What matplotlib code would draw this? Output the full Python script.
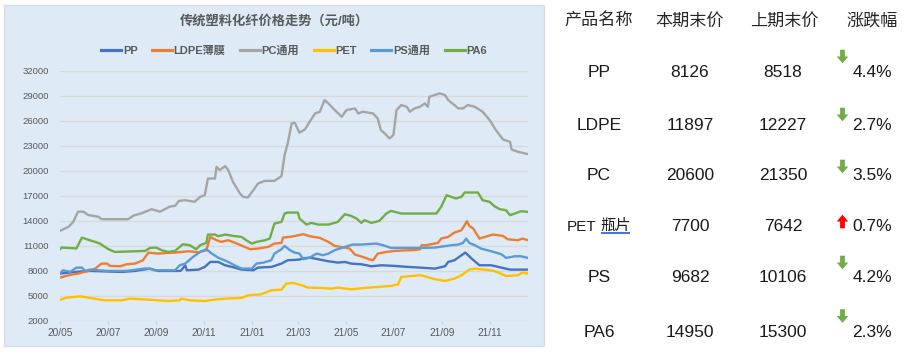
import numpy as np
import matplotlib
matplotlib.use('Agg')
import matplotlib.pyplot as plt
import matplotlib.dates as mdates
from matplotlib.patches import Rectangle, Polygon
from matplotlib.lines import Line2D

plt.rcParams['font.family'] = ['Liberation Sans', 'Noto Sans CJK SC', 'DejaVu Sans']

# ---------------- data ----------------
start_date = '2020-05-01'
series_names = ['PP', 'LDPE薄膜', 'PC通用', 'PET', 'PS通用', 'PA6']

pp_days = [0, 19, 38, 79, 96, 115, 125, 153, 155, 160, 162, 177, 185, 192, 202, 211, 223, 232, 247, 253,
           270, 283, 291, 306, 309, 319, 330, 343, 355, 364, 372, 385, 398, 411, 428, 445, 460, 479, 492, 496,
           504, 513, 518, 526, 536, 551, 564, 575, 598]
pp_vals = [7680, 7880, 8000, 7880, 8000, 8280, 8000, 8000, 8080, 8680, 8080, 8160, 8480, 9080, 9080, 8680, 8400, 8160, 8080, 8400,
           8480, 8880, 9280, 9360, 9480, 9600, 9400, 9160, 9000, 9080, 8880, 8800, 8560, 8680, 8600, 8480, 8400, 8280, 8560, 9080,
           9280, 9880, 10200, 9480, 8680, 8680, 8400, 8160, 8160]

ldpe_days = [0, 11, 23, 36, 45, 53, 60, 64, 77, 85, 96, 106, 113, 125, 138, 147, 164, 177, 187, 192,
             200, 206, 215, 226, 236, 243, 253, 266, 274, 283, 285, 294, 311, 319, 332, 343, 351, 364, 370, 377,
             387, 396, 400, 406, 417, 428, 445, 453, 460, 462, 468, 483, 487, 496, 504, 513, 520, 523, 528, 532,
             536, 543, 553, 566, 572, 585, 591, 598]
ldpe_vals = [7200, 7480, 7680, 8000, 8280, 8880, 8880, 8600, 8560, 8800, 8880, 9280, 10200, 10080, 10160, 10200, 10360, 10240, 10480, 12080,
             11680, 11480, 11680, 11280, 10880, 10600, 10680, 10880, 11280, 11360, 12000, 12080, 12400, 12160, 11960, 11480, 11000, 10800, 10680, 9960,
             9680, 9360, 9280, 10080, 10280, 10400, 10480, 10500, 10600, 11080, 11080, 11360, 11880, 12080, 12600, 12880, 13960, 13400, 13080, 12480,
             11880, 12080, 12360, 12200, 11800, 11680, 11880, 11680]

pc_days = [0, 11, 17, 23, 30, 36, 49, 53, 68, 87, 94, 104, 117, 128, 140, 147, 152, 160, 172, 179,
           185, 189, 198, 200, 204, 211, 215, 221, 230, 234, 240, 247, 253, 262, 274, 283, 287, 291, 296, 300,
           306, 313, 319, 326, 332, 338, 343, 349, 360, 366, 377, 381, 387, 400, 406, 410, 415, 421, 426, 430,
           436, 443, 447, 453, 460, 466, 470, 472, 485, 492, 496, 504, 509, 515, 521, 530, 540, 549, 557, 566,
           575, 577, 585, 598]
pc_vals = [12800, 13300, 13900, 15100, 15100, 14700, 14500, 14200, 14200, 14200, 14640, 14900, 15400, 15100, 15700, 15800, 16400, 16480, 16280, 16880,
           17080, 19080, 19080, 20480, 20080, 20560, 20080, 18680, 17280, 16880, 16800, 17680, 18480, 18800, 18800, 19360, 21880, 23280, 25680, 25760,
           24560, 24960, 25880, 26880, 27080, 28480, 28080, 27480, 26480, 27280, 27480, 26880, 27080, 26880, 26280, 24880, 24480, 23880, 24280, 27280,
           27880, 27680, 27080, 27480, 27680, 28080, 27680, 28880, 29280, 29080, 28480, 27880, 27480, 27480, 27880, 27680, 27080, 26080, 24880, 23760,
           23480, 22560, 22280, 22000]

pet_days = [0, 9, 26, 36, 57, 79, 89, 113, 138, 153, 155, 166, 185, 198, 211, 232, 240, 257, 270, 283,
            289, 298, 309, 317, 334, 347, 355, 372, 389, 406, 423, 432, 436, 445, 460, 466, 479, 492, 504, 513,
            523, 530, 543, 555, 570, 585, 591, 598]
pet_vals = [4560, 4800, 4960, 4800, 4480, 4480, 4680, 4560, 4400, 4480, 4680, 4480, 4400, 4560, 4680, 4760, 5080, 5200, 5680, 5760,
            6480, 6560, 6280, 6000, 5960, 5880, 6000, 5800, 5960, 6080, 6200, 6400, 7280, 7360, 7480, 7360, 7000, 6800, 7080, 7480,
            8160, 8280, 8160, 8000, 7400, 7480, 7800, 7680]

ps_days = [0, 4, 13, 21, 28, 32, 38, 60, 85, 109, 117, 121, 147, 153, 160, 170, 179, 187, 194, 202,
           215, 223, 232, 245, 251, 260, 270, 274, 283, 287, 294, 300, 306, 311, 319, 328, 336, 343, 351, 364,
           374, 385, 404, 413, 423, 440, 460, 479, 500, 509, 515, 519, 523, 530, 538, 551, 564, 570, 581, 589, 598]
ps_vals = [7680, 8080, 7880, 8400, 8400, 8000, 8160, 8000, 8000, 8300, 8200, 8080, 8080, 8680, 8880, 9680, 10280, 10600, 10080, 9600,
           9080, 8680, 8280, 8280, 8880, 9000, 9280, 10080, 10600, 11000, 10480, 10200, 10080, 9400, 9600, 10080, 9880, 10080, 10480, 10880,
           11160, 11160, 11280, 11080, 10760, 10760, 10760, 10800, 11080, 11160, 11360, 11880, 11360, 11080, 10680, 10360, 10000, 9560, 9760, 9760, 9560]

pa6_days = [0, 2, 21, 28, 34, 45, 51, 62, 70, 109, 115, 123, 130, 138, 147, 157, 166, 174, 179, 187,
            189, 198, 202, 211, 221, 232, 238, 245, 251, 262, 268, 274, 283, 287, 291, 304, 306, 315, 321, 330,
            343, 355, 364, 372, 379, 385, 389, 398, 408, 417, 423, 436, 453, 481, 487, 494, 500, 506, 513, 517,
            534, 540, 549, 555, 562, 570, 575, 581, 589, 598]
pa6_vals = [10600, 10800, 10700, 12000, 11800, 11480, 11280, 10600, 10280, 10400, 10760, 10800, 10480, 10280, 10400, 11200, 11080, 10600, 11080, 11360,
            12360, 12360, 12160, 12360, 12200, 12080, 11680, 11280, 11480, 11680, 11880, 13680, 13880, 14880, 15000, 15000, 14280, 13560, 13760, 13560,
            13560, 13880, 14800, 14600, 14280, 13760, 14080, 13760, 14000, 14880, 15200, 14880, 14880, 14880, 15680, 17080, 16880, 16680, 16880, 17400,
            17400, 16480, 16280, 15760, 15400, 15280, 14680, 14880, 15160, 15080]

y_ticks = [2000, 5000, 8000, 11000, 14000, 17000, 20000, 23000, 26000, 29000, 32000]

table_headers = ['产品名称', '本期末价', '上期末价', '涨跌幅']
table_products = ['PP', 'LDPE', 'PC', 'PET 瓶片', 'PS', 'PA6']
price_current = [8126, 11897, 20600, 7700, 9682, 14950]
price_previous = [8518, 12227, 21350, 7642, 10106, 15300]
change_pct = ['4.4%', '2.7%', '3.5%', '0.7%', '4.2%', '2.3%']

# ---------------- styles / layout ----------------
colors = ['#4472C4', '#ED7D31', '#A5A5A5', '#FFC000', '#5B9BD5', '#70AD47']
W, H = 911, 361
grey_txt = '#595959'

fig = plt.figure(figsize=(W / 100, H / 100), dpi=100)
ov = fig.add_axes([0, 0, 1, 1], zorder=0)
ov.set_xlim(0, W)
ov.set_ylim(H, 0)
ov.axis('off')
ov.add_patch(Rectangle((4, 5), 540, 341, facecolor='#DEEBF7', edgecolor='#D3DAE3', lw=0.9))

ax = fig.add_axes([60 / W, 1 - 321 / H, 468 / W, 250.3 / H], zorder=1)
ax.patch.set_alpha(0)

base = np.datetime64(start_date)
all_days = [pp_days, ldpe_days, pc_days, pet_days, ps_days, pa6_days]
all_vals = [pp_vals, ldpe_vals, pc_vals, pet_vals, ps_vals, pa6_vals]
handles = []
for d, v, c, n in zip(all_days, all_vals, colors, series_names):
    dates = base + np.array(d).astype('timedelta64[D]')
    ax.plot(dates, v, color=c, lw=1.7, label=n, solid_joinstyle='round')
    handles.append(Line2D([], [], color=c, lw=2.3, label=n))

ax.set_ylim(2000, 32000)
ax.set_yticks(y_ticks)
ax.set_xlim(base, base + np.timedelta64(max(max(d) for d in all_days), 'D'))
ax.xaxis.set_major_locator(mdates.MonthLocator(bymonth=[1, 3, 5, 7, 9, 11]))
ax.xaxis.set_major_formatter(mdates.DateFormatter('%y/%m'))
ax.grid(axis='y', color='#D9D9D9', lw=1.0)
ax.set_axisbelow(True)
for s in ax.spines.values():
    s.set_visible(False)
ax.tick_params(axis='y', length=0, pad=8, labelsize=6.8, labelcolor=grey_txt)
ax.tick_params(axis='x', length=2.5, width=0.8, color='#D0D0D0', pad=2.5, labelsize=7.3, labelcolor=grey_txt)

ov.text(274, 21.5, '传统塑料化纤价格走势（元/吨）', ha='center', va='center',
        fontsize=9.5, fontweight='bold', color=grey_txt)
ov.legend(handles=handles, loc='center', bbox_to_anchor=(294, 51), bbox_transform=ov.transData,
          ncol=6, frameon=False, prop={'size': 8, 'weight': 'bold'}, labelcolor=grey_txt,
          handlelength=1.8, handletextpad=0.15, columnspacing=1.3)

# ---------------- table ----------------
hdr_x = [599, 690, 784, 872.5]
for hx, t in zip(hdr_x, table_headers):
    ov.text(hx, 20.5, t, ha='center', va='center', fontsize=12.3, color='#262626',
            family=['Noto Sans CJK SC', 'DejaVu Sans'])

row_base = [77, 130, 180, 231, 282, 337]
arrow_cy = [56.5, 114.5, 166.5, 221.5, 262.5, 316]
col_x = [599, 690, 783]
pct_x = 852.5
arrow_x = 842.5
num_kw = dict(fontsize=12.5, color='#1A1A1A', va='baseline', family=['Liberation Sans', 'DejaVu Sans'])

for i, name in enumerate(table_products):
    yb = row_base[i]
    if ' ' in name:
        latin, cjk = name.split(' ', 1)
        ov.text(567, yb, latin, ha='left', va='baseline', fontsize=11, color='#1A1A1A')
        ov.text(600.5, yb - 1.5, cjk, ha='left', va='baseline', fontsize=11, color='#1A1A1A',
                family=['Noto Sans CJK SC', 'DejaVu Sans'])
        ov.plot([600.5, 630], [232.5, 232.5], color='#3467D6', lw=1.3, solid_capstyle='butt')
    else:
        ov.text(col_x[0], yb, name, ha='center', **num_kw)
    ov.text(col_x[1], yb, str(price_current[i]), ha='center', **num_kw)
    ov.text(col_x[2], yb, str(price_previous[i]), ha='center', **num_kw)
    ov.text(pct_x, yb, change_pct[i], ha='left', **num_kw)
    up = price_current[i] > price_previous[i]
    cx, cy = arrow_x, arrow_cy[i]
    s = -1 if up else 1
    pts = [(cx - 2.4, cy - s * 6.8), (cx + 2.4, cy - s * 6.8), (cx + 2.4, cy),
           (cx + 5.8, cy), (cx, cy + s * 6.8), (cx - 5.8, cy), (cx - 2.4, cy)]
    ov.add_patch(Polygon(pts, closed=True, facecolor='#FF0000' if up else '#70AD47', edgecolor='none'))

fig.savefig('out.png', dpi=100)
